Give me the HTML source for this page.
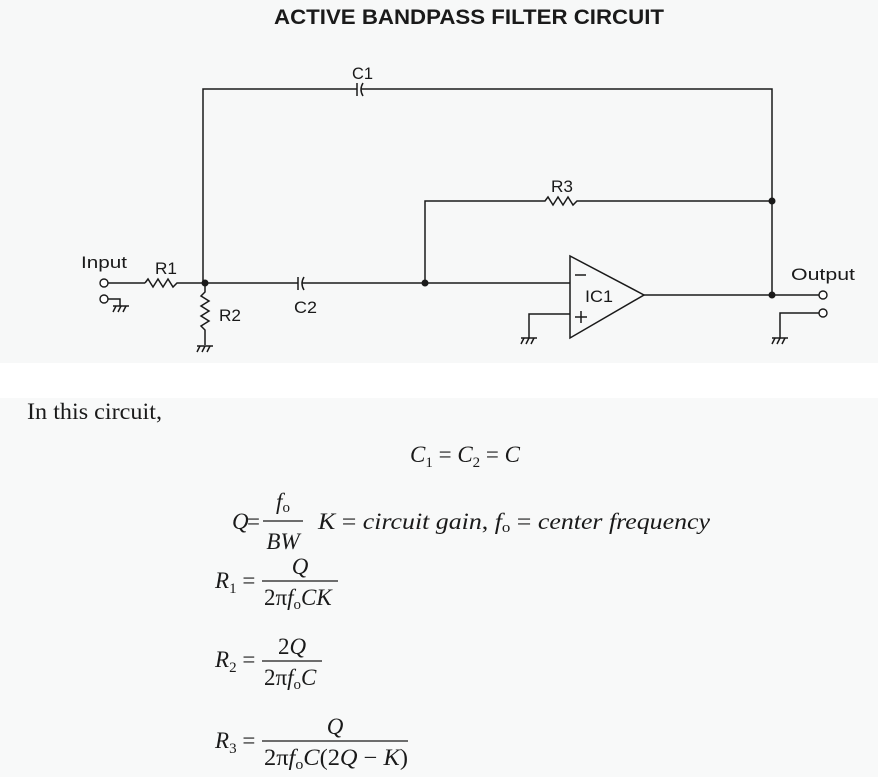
<!DOCTYPE html>
<html><head><meta charset="utf-8"><style>
html,body{margin:0;padding:0;background:#fff;}
svg{display:block}
.s{font-family:"Liberation Sans",sans-serif;fill:#1a1a1a}
.m{font-family:"Liberation Serif",serif;font-size:23px;fill:#1a1a1a}
.i{font-style:italic}
</style></head><body>
<svg width="878" height="777" viewBox="0 0 878 777" xmlns="http://www.w3.org/2000/svg">
<rect x="0" y="0" width="878" height="363" fill="#f7f8f8"/>
<rect x="0" y="398" width="878" height="379" fill="#f8f9f9"/>
<text x="274" y="24" class="s" font-size="21" font-weight="bold" textLength="390" lengthAdjust="spacingAndGlyphs">ACTIVE BANDPASS FILTER CIRCUIT</text>
<g stroke="#1a1a1a" stroke-width="1.5" fill="none">
<polyline points="203,283 203,89 357,89"/>
<line x1="357" y1="83" x2="357" y2="96"/>
<path d="M363,83 Q359,89.5 363,96"/>
<polyline points="361,89 772,89 772,295"/>
<polyline points="425,283 425,201 545,201 548,197 553,205 558,197 563,205 568,197 573,205 577,201 772,201"/>
<line x1="108" y1="283" x2="145" y2="283"/>
<polyline points="145,283 148,279 153,287 158,279 163,287 168,279 173,287 177,283 298,283"/>
<line x1="298" y1="277" x2="298" y2="290"/>
<path d="M304,277 Q300,283.5 304,290"/>
<polyline points="302,283 570,283"/>
<polyline points="205,283 205,292 201,296 209,301 201,306 209,311 201,316 209,321 201,326 205,330 205,345"/>
<line x1="197" y1="346" x2="213" y2="346"/>
<path d="M200,346 l-3,6 M205,346 l-3,6 M210,346 l-3,6"/>
<polyline points="108,299 120,299 120,306"/>
<line x1="113" y1="306" x2="129" y2="306"/>
<path d="M116,306 l-3,6 M121,306 l-3,6 M126,306 l-3,6"/>
<polyline points="570,314 529,314 529,338"/>
<line x1="521" y1="338" x2="537" y2="338"/>
<path d="M524,338 l-3,6 M529,338 l-3,6 M534,338 l-3,6"/>
<polyline points="819,313 780,313 780,338"/>
<line x1="772" y1="338" x2="788" y2="338"/>
<path d="M775,338 l-3,6 M780,338 l-3,6 M785,338 l-3,6"/>
<polygon points="570,256 570,338 644,295"/>
<line x1="644" y1="295" x2="819" y2="295"/>
<line x1="575" y1="275" x2="586" y2="275"/>
<line x1="575" y1="317" x2="587" y2="317"/>
<line x1="581" y1="311" x2="581" y2="323"/>
</g>
<g fill="#fff" stroke="#1a1a1a" stroke-width="1.4">
<circle cx="104" cy="283" r="4"/><circle cx="104" cy="299" r="4"/>
<circle cx="823" cy="295" r="4"/><circle cx="823" cy="313" r="4"/>
</g>
<g fill="#1a1a1a">
<circle cx="205" cy="283" r="3.5"/><circle cx="425" cy="283" r="3.5"/>
<circle cx="772" cy="201" r="3.5"/><circle cx="772" cy="295" r="3.5"/>
</g>
<g class="s" font-size="17">
<text x="352" y="79" textLength="21" lengthAdjust="spacingAndGlyphs">C1</text>
<text x="551" y="192" textLength="22" lengthAdjust="spacingAndGlyphs">R3</text>
<text x="81" y="268" textLength="46" lengthAdjust="spacingAndGlyphs">Input</text>
<text x="155" y="274" textLength="22" lengthAdjust="spacingAndGlyphs">R1</text>
<text x="219" y="321" textLength="22" lengthAdjust="spacingAndGlyphs">R2</text>
<text x="294" y="313" textLength="23" lengthAdjust="spacingAndGlyphs">C2</text>
<text x="585" y="302" textLength="28" lengthAdjust="spacingAndGlyphs">IC1</text>
<text x="791" y="280" textLength="64" lengthAdjust="spacingAndGlyphs">Output</text>
</g>
<text x="27" y="419" class="m" textLength="135" lengthAdjust="spacingAndGlyphs">In this circuit,</text>
<text x="410" y="462" class="m"><tspan class="i">C</tspan><tspan font-size="15" dy="5">1</tspan><tspan dy="-5"> = </tspan><tspan class="i">C</tspan><tspan font-size="15" dy="5">2</tspan><tspan dy="-5"> = </tspan><tspan class="i">C</tspan></text>
<text x="232" y="529" class="m i">Q</text>
<text x="247" y="529" class="m" font-size="21">=</text>
<text x="283" y="509" class="m" text-anchor="middle"><tspan class="i">f</tspan><tspan font-size="15" dy="3">o</tspan></text>
<line x1="263" y1="521" x2="303" y2="521" stroke="#1a1a1a" stroke-width="1.3"/>
<text x="283" y="549" class="m i" text-anchor="middle">BW</text>
<text x="318" y="529" class="m" textLength="392" lengthAdjust="spacingAndGlyphs"><tspan class="i">K</tspan> = <tspan class="i">circuit gain</tspan>, <tspan class="i">f</tspan><tspan font-size="15" dy="3">o</tspan><tspan dy="-3"> = </tspan><tspan class="i">center frequency</tspan></text>
<text x="215" y="588" class="m"><tspan class="i">R</tspan><tspan font-size="15" dy="5">1</tspan><tspan dy="-5"> =</tspan></text>
<text x="300" y="574" class="m i" text-anchor="middle">Q</text>
<line x1="262" y1="581" x2="338" y2="581" stroke="#1a1a1a" stroke-width="1.3"/>
<text x="264" y="605" class="m">2π<tspan class="i">f</tspan><tspan font-size="15" dy="4">o</tspan><tspan dy="-4" class="i">CK</tspan></text>
<text x="215" y="667" class="m"><tspan class="i">R</tspan><tspan font-size="15" dy="5">2</tspan><tspan dy="-5"> =</tspan></text>
<text x="292" y="654" class="m" text-anchor="middle">2<tspan class="i">Q</tspan></text>
<line x1="262" y1="661" x2="322" y2="661" stroke="#1a1a1a" stroke-width="1.3"/>
<text x="264" y="685" class="m">2π<tspan class="i">f</tspan><tspan font-size="15" dy="4">o</tspan><tspan dy="-4" class="i">C</tspan></text>
<text x="215" y="748" class="m"><tspan class="i">R</tspan><tspan font-size="15" dy="5">3</tspan><tspan dy="-5"> =</tspan></text>
<text x="335" y="734" class="m i" text-anchor="middle">Q</text>
<line x1="262" y1="741" x2="408" y2="741" stroke="#1a1a1a" stroke-width="1.3"/>
<text x="264" y="765" class="m" textLength="144" lengthAdjust="spacingAndGlyphs">2π<tspan class="i">f</tspan><tspan font-size="15" dy="4">o</tspan><tspan dy="-4" class="i">C</tspan>(2<tspan class="i">Q</tspan> − <tspan class="i">K</tspan>)</text>
</svg>
</body></html>
